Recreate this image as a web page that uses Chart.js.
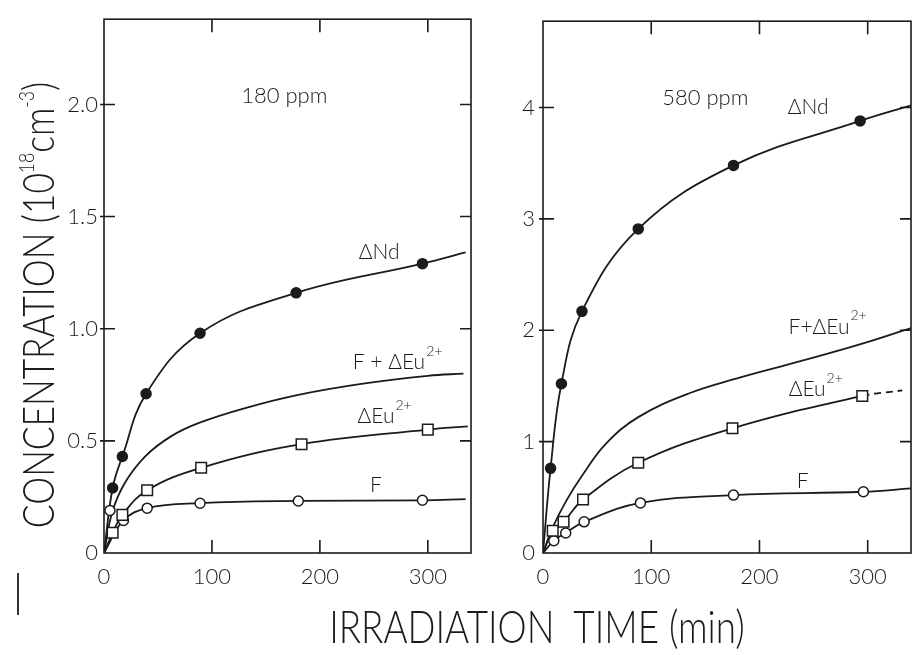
<!DOCTYPE html>
<html>
<head>
<meta charset="utf-8">
<script src="https://cdn.jsdelivr.net/npm/chart.js@4.4.1/dist/chart.umd.min.js"></script>
<style>
  body { margin: 0; background: #fff; width: 913px; height: 655px; overflow: hidden; position: relative; font-family: Lato, sans-serif; color: #1b1b1b; }
  canvas { position: absolute; top: 0; }
  #left { left: 0; }
  #right { left: 480px; }
  .title { position: absolute; white-space: nowrap; font-weight: 300; line-height: 1; }
  #ytitle { left: 37px; top: 305px; font-size: 43px; transform: translate(-50%, -50%) rotate(-90deg) scaleX(0.82); }
  #xtitle { left: 537px; top: 626px; font-size: 46px; transform: translate(-50%, -50%) scaleX(0.8); }
  .title sup { font-size: 0.5em; vertical-align: 0.9em; }
  #mark { position: absolute; left: 17px; top: 573px; width: 2px; height: 42px; background: #333; }
</style>
</head>
<body>
<canvas id="left" width="480" height="600"></canvas>
<canvas id="right" width="440" height="600"></canvas>
<div class="title" id="ytitle">CONCENTRATION (10<sup>18</sup>cm<sup>-3</sup>)</div>
<div class="title" id="xtitle">IRRADIATION&nbsp;&nbsp;TIME (min)</div>
<div id="mark"></div>
<script>
const ink = '#1b1b1b';
const FONT = 'Lato';

// ---- 180 ppm (left) ----
const ndTimeL = [8, 17, 39, 89, 178, 295];
const ndValL = [0.29, 0.43, 0.71, 0.98, 1.16, 1.29];
const ndCurveTL = [0, 8, 17, 39, 89, 178, 295, 335];
const ndCurveVL = [0, 0.29, 0.43, 0.71, 0.98, 1.16, 1.29, 1.34];

const euTimeL = [8, 17, 40, 90, 183, 300];
const euValL = [0.09, 0.17, 0.28, 0.38, 0.485, 0.55];
const euCurveTL = [0, 8, 17, 40, 90, 183, 300, 337];
const euCurveVL = [0, 0.09, 0.17, 0.28, 0.38, 0.485, 0.55, 0.565];

const fTimeL = [5.5, 18, 40, 89, 180, 295];
const fValL = [0.19, 0.145, 0.2, 0.222, 0.232, 0.235];
const fCurveTL = [0, 18, 40, 89, 180, 295, 335];
const fCurveVL = [0, 0.145, 0.2, 0.222, 0.232, 0.235, 0.24];

const sumCurveTL = [0, 7.5, 19, 38, 62, 88, 130, 180, 240, 300, 333];
const sumCurveVL = [0, 0.18, 0.31, 0.43, 0.52, 0.58, 0.645, 0.705, 0.755, 0.79, 0.8];

// ---- 580 ppm (right) ----
const ndTimeR = [7, 17, 36, 88, 176, 293];
const ndValR = [0.76, 1.52, 2.17, 2.91, 3.48, 3.88];
const ndCurveTR = [0, 7, 17, 36, 88, 176, 293, 340];
const ndCurveVR = [0, 0.76, 1.52, 2.17, 2.91, 3.48, 3.88, 4.02];

const euTimeR = [9, 19, 37, 88, 175, 295];
const euValR = [0.2, 0.28, 0.48, 0.81, 1.12, 1.41];
const euCurveTR = [0, 9, 19, 37, 88, 175, 295, 332];
const euCurveVR = [0, 0.2, 0.28, 0.48, 0.81, 1.12, 1.41, 1.46];

const fTimeR = [10, 21, 38, 90, 176, 296];
const fValR = [0.11, 0.18, 0.28, 0.45, 0.52, 0.55];
const fCurveTR = [0, 10, 21, 38, 90, 176, 296, 340];
const fCurveVR = [0, 0.11, 0.18, 0.28, 0.45, 0.52, 0.55, 0.58];

const sumCurveTR = [0, 9, 21.6, 36.5, 58, 88, 134, 180, 237, 295, 340];
const sumCurveVR = [0, 0.23, 0.47, 0.7, 0.98, 1.22, 1.43, 1.57, 1.72, 1.88, 2.02];

const xTicks = [0, 100, 200, 300];
const yTicksL = [0, 0.5, 1.0, 1.5, 2.0];
const yTicksR = [0, 1, 2, 3, 4];

const notesL = [
  { text: '180 ppm', x: 167, y: 2.04, size: 22 },
  { text: '\u0394Nd', x: 255, y: 1.34 },
  { text: 'F + \u0394Eu', sup: '2+', x: 272, y: 0.85 },
  { text: '\u0394Eu', sup: '2+', x: 260, y: 0.61 },
  { text: 'F', x: 252, y: 0.30 }
];
const notesR = [
  { text: '580 ppm', x: 150, y: 4.09, size: 22 },
  { text: '\u0394Nd', x: 245, y: 4.0 },
  { text: 'F+\u0394Eu', sup: '2+', x: 263, y: 2.03 },
  { text: '\u0394Eu', sup: '2+', x: 252, y: 1.47 },
  { text: 'F', x: 240, y: 0.64 }
];

const pts = (ts, vs) => ts.map((t, i) => ({ x: t, y: vs[i] }));

function curve(ts, vs, dashLast) {
  const ds = {
    data: pts(ts, vs), showLine: true, pointRadius: 0, borderColor: ink,
    borderWidth: 1.8, tension: 0.4, order: 2
  };
  if (dashLast) ds.segment = { borderDash: c => c.p1DataIndex === ts.length - 1 ? [7, 5] : undefined };
  return ds;
}

function marks(ts, vs, style, fill) {
  return {
    data: pts(ts, vs), showLine: false, pointStyle: style,
    pointRadius: style === 'rect' ? 7.5 : 5, borderColor: ink, borderWidth: 1.5,
    backgroundColor: fill, order: 1
  };
}

// box round the plot with ticks pointing inwards
const frame = {
  id: 'frame',
  afterDraw(chart) {
    const { ctx, chartArea: a, scales: { x, y } } = chart;
    ctx.save();
    ctx.strokeStyle = ink;
    ctx.lineWidth = 1.6;
    ctx.strokeRect(a.left, a.top, a.right - a.left, a.bottom - a.top);
    ctx.beginPath();
    x.ticks.forEach(t => {
      if (t.value === 0) return;
      const px = x.getPixelForValue(t.value);
      ctx.moveTo(px, a.bottom); ctx.lineTo(px, a.bottom - 13);
      ctx.moveTo(px, a.top); ctx.lineTo(px, a.top + 13);
    });
    y.ticks.forEach(t => {
      if (t.value === 0) return;
      const py = y.getPixelForValue(t.value);
      ctx.moveTo(a.left - 4, py); ctx.lineTo(a.left + 11, py);
      ctx.moveTo(a.right - 11, py); ctx.lineTo(a.right, py);
    });
    ctx.stroke();
    ctx.restore();
  }
};

const notes = {
  id: 'notes',
  afterDatasetsDraw(chart, args, opts) {
    const { ctx, scales: { x, y } } = chart;
    ctx.save();
    ctx.fillStyle = ink;
    ctx.textBaseline = 'middle';
    ctx.textAlign = 'left';
    opts.items.forEach(n => {
      const main = '300 ' + (n.size || 21) + 'px ' + FONT;
      const small = '300 14px ' + FONT;
      ctx.font = main;
      const w1 = ctx.measureText(n.text).width;
      ctx.font = small;
      const w2 = n.sup ? ctx.measureText(n.sup).width + 1 : 0;
      const left = x.getPixelForValue(n.x) - (w1 + w2) / 2;
      const py = y.getPixelForValue(n.y);
      ctx.font = main;
      ctx.fillText(n.text, left, py);
      if (n.sup) {
        ctx.font = small;
        ctx.fillText(n.sup, left + w1 + 1, py - 11);
      }
    });
    ctx.restore();
  }
};

function makeChart(id, datasets, o) {
  return new Chart(document.getElementById(id), {
    type: 'scatter',
    data: { datasets },
    plugins: [frame, notes],
    options: {
      responsive: false,
      animation: false,
      layout: { padding: o.padding },
      plugins: { legend: { display: false }, tooltip: { enabled: false }, notes: { items: o.notes } },
      scales: {
        x: {
          type: 'linear', min: 0, max: 340,
          grid: { display: false, drawTicks: false }, border: { display: false },
          afterBuildTicks: s => { s.ticks = xTicks.map(v => ({ value: v })); },
          afterFit: s => { s.height = 47; },
          ticks: { padding: 11, color: ink, font: { family: FONT, size: 22, weight: '300' }, maxRotation: 0 }
        },
        y: {
          type: 'linear', min: 0, max: o.ymax,
          grid: { display: false, drawTicks: false }, border: { display: false },
          afterBuildTicks: s => { s.ticks = o.yTicks.map(v => ({ value: v })); },
          afterFit: s => { s.width = o.yWidth; },
          ticks: {
            padding: o.yPad, color: ink, font: { family: FONT, size: 22, weight: '300' },
            callback: v => v === 0 ? '0' : o.fmt(v)
          }
        }
      }
    }
  });
}

makeChart('left', [
  curve(ndCurveTL, ndCurveVL), curve(euCurveTL, euCurveVL), curve(fCurveTL, fCurveVL), curve(sumCurveTL, sumCurveVL),
  marks(ndTimeL, ndValL, 'circle', ink), marks(euTimeL, euValL, 'rect', '#fff'), marks(fTimeL, fValL, 'circle', '#fff')
], { padding: { left: 0, right: 6, top: 14, bottom: 0 }, ymax: 2.38, yTicks: yTicksL, yWidth: 104, yPad: 6, fmt: v => v.toFixed(1), notes: notesL });

makeChart('right', [
  curve(ndCurveTR, ndCurveVR), curve(euCurveTR, euCurveVR, true), curve(fCurveTR, fCurveVR), curve(sumCurveTR, sumCurveVR),
  marks(ndTimeR, ndValR, 'circle', ink), marks(euTimeR, euValR, 'rect', '#fff'), marks(fTimeR, fValR, 'circle', '#fff')
], { padding: { left: 0, right: 4, top: 11, bottom: 0 }, ymax: 4.775, yTicks: yTicksR, yWidth: 63, yPad: 8, fmt: v => String(v), notes: notesR });
</script>
</body>
</html>
